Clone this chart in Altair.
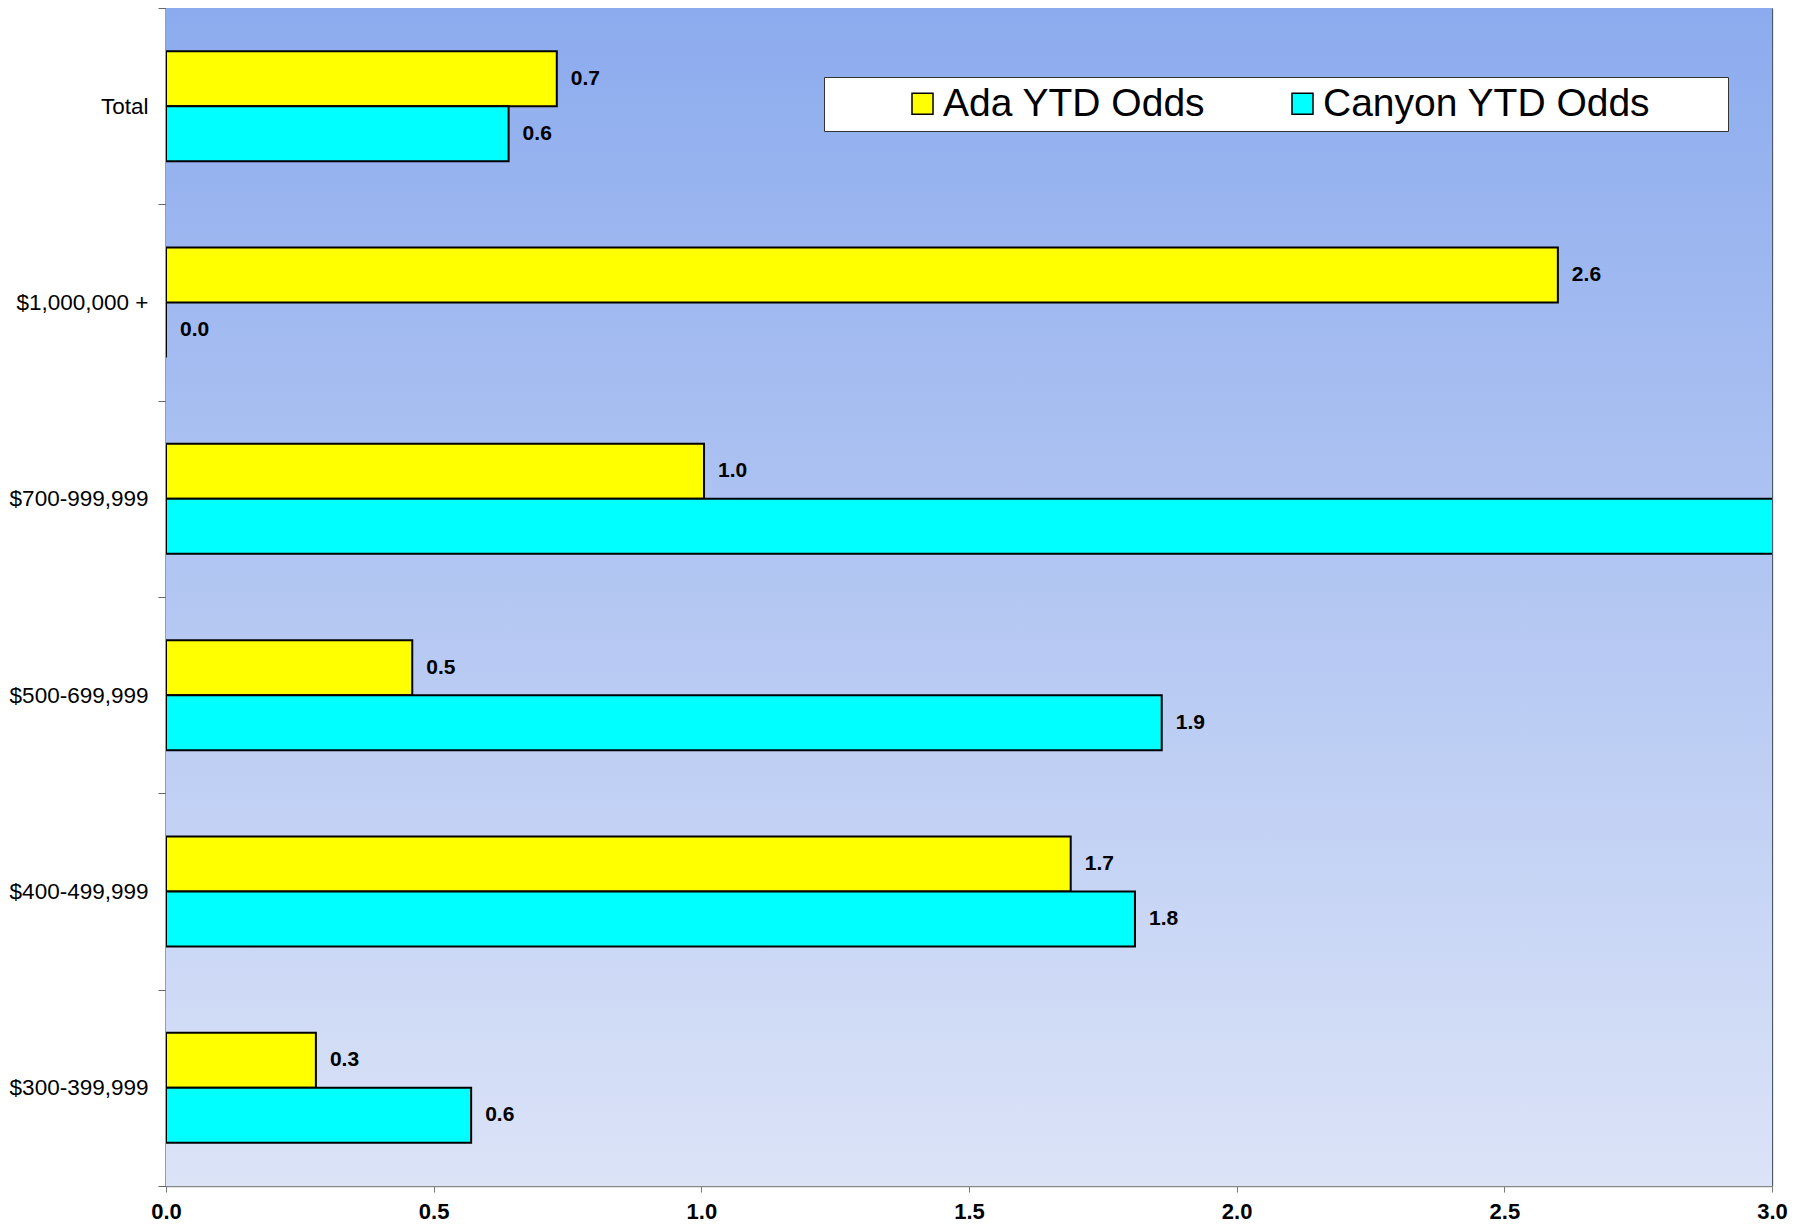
import altair as alt
import pandas as pd

categories = ["Total", "$1,000,000 +", "$700-999,999", "$500-699,999", "$400-499,999", "$300-399,999"]
series = ["Ada YTD Odds", "Canyon YTD Odds"]
ada_values = [0.73, 2.60, 1.005, 0.46, 1.69, 0.28]
canyon_values = [0.64, 0.0, 3.5, 1.86, 1.81, 0.57]
x_ticks = [0.0, 0.5, 1.0, 1.5, 2.0, 2.5, 3.0]

rows = []
for c, a, k in zip(categories, ada_values, canyon_values):
    rows.append({"category": c, "series": series[0], "value": a})
    rows.append({"category": c, "series": series[1], "value": k})
df = pd.DataFrame(rows)

FONT = "Liberation Sans"
W, H = 1606, 1178

bg = alt.Chart(alt.Data(values=[{}])).mark_rect(
    color=alt.LinearGradient(
        gradient="linear",
        stops=[alt.GradientStop(color="#8cabee", offset=0),
               alt.GradientStop(color="#dbe3f7", offset=1)],
        x1=0, x2=0, y1=0, y2=1,
    )
).encode(x=alt.value(0), x2=alt.value("width"), y=alt.value(0), y2=alt.value("height"))

y_enc = alt.Y(
    "category:N", sort=categories, title=None,
    scale=alt.Scale(paddingInner=0, paddingOuter=0),
    axis=alt.Axis(
        tickBand="extent", labelFont=FONT, labelFontSize=22.5, labelColor="black",
        labelPadding=10, tickSize=8, tickColor="#666666", domainColor="#888888",
        domainWidth=1.5, grid=False,
    ),
)
x_enc = alt.X(
    "value:Q", title=None,
    scale=alt.Scale(domain=[0, 3], nice=False, zero=True),
    axis=alt.Axis(
        values=x_ticks, format=".1f", labelFont=FONT, labelFontSize=22,
        labelFontWeight="bold", labelColor="black", labelPadding=9, labelFlush=False,
        tickSize=6, tickColor="#777777", domainColor="#888888", domainWidth=1.5,
        grid=True, gridColor="#4e566a", gridWidth=1.3,
    ),
)
yoff = alt.YOffset("series:N", sort=series, scale=alt.Scale(paddingInner=0, paddingOuter=0.786))

bars = alt.Chart(df).mark_bar(stroke="black", strokeWidth=2, clip=True).encode(
    y=y_enc, x=x_enc, yOffset=yoff,
    color=alt.Color(
        "series:N", sort=series,
        scale=alt.Scale(domain=series, range=["#ffff00", "#00ffff"]),
        legend=alt.Legend(
            title=" ", titleOrient="right", titlePadding=71, titleFontSize=10,
            orient="none", legendX=658, legendY=69, direction="horizontal",
            fillColor="white", strokeColor="#333333", padding=7,
            labelFont=FONT, labelFontSize=39, labelColor="black", labelOffset=1,
            symbolType="square", symbolSize=441, symbolStrokeColor="black",
            symbolStrokeWidth=1.5, symbolOpacity=1, symbolOffset=72,
            columnPadding=5, labelLimit=700,
        ),
    ),
)

labels = alt.Chart(df).transform_filter("datum.value <= 3").mark_text(
    align="left", baseline="middle", dx=14, font=FONT, fontSize=21,
    fontWeight="bold", color="black",
).encode(
    y=alt.Y("category:N", sort=categories), x="value:Q", yOffset=yoff,
    text=alt.Text("value:Q", format=".1f"),
)

chart = alt.layer(bg, bars, labels).properties(
    width=W, height=H,
    autosize=alt.AutoSizeParams(type="none"),
    padding={"left": 158, "top": 0, "right": 30, "bottom": 36},
).configure_view(stroke="#999999", strokeWidth=1.5)

chart.save("out.html", embed_options={"renderer": "svg", "actions": False})
